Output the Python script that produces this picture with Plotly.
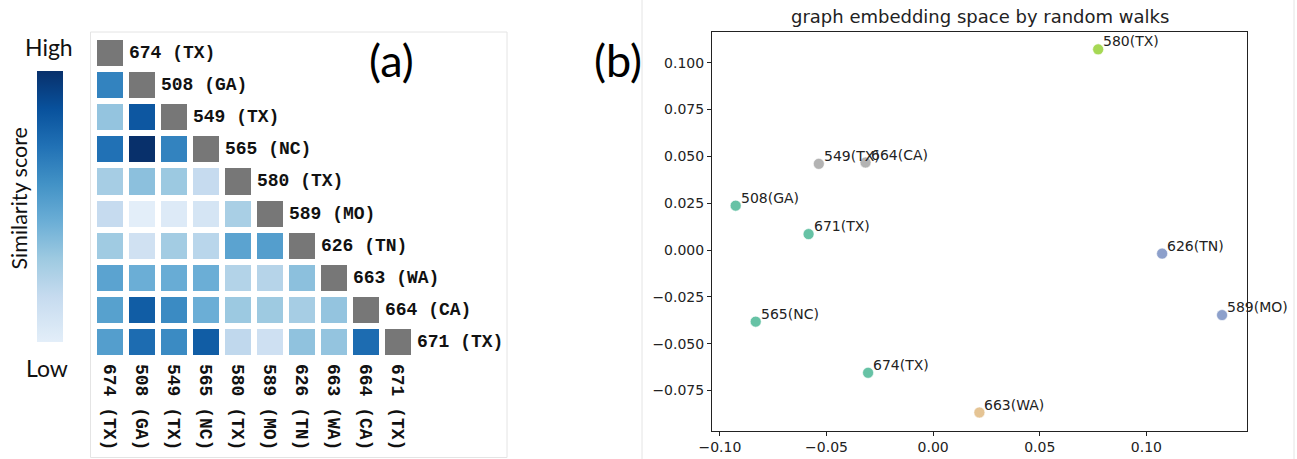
import plotly.graph_objects as go

W, H = 1297, 459

# ---------------- data: panel (a) ----------------
names = ["674 (TX)", "508 (GA)", "549 (TX)", "565 (NC)", "580 (TX)",
         "589 (MO)", "626 (TN)", "663 (WA)", "664 (CA)", "671 (TX)"]
# lower-triangular similarity scores (row i, columns 0..i-1)
sim_rows = [
    [],
    [0.68],
    [0.40, 0.85],
    [0.75, 1.00, 0.68],
    [0.35, 0.42, 0.38, 0.25],
    [0.25, 0.10, 0.13, 0.17, 0.34],
    [0.37, 0.20, 0.36, 0.29, 0.55, 0.57],
    [0.55, 0.50, 0.51, 0.50, 0.31, 0.30, 0.42],
    [0.56, 0.83, 0.65, 0.50, 0.38, 0.375, 0.35, 0.40],
    [0.57, 0.77, 0.65, 0.83, 0.27, 0.21, 0.41, 0.40, 0.77],
]

# ---------------- data: panel (b) ----------------
pt_labels = ["580(TX)", "549(TX)", "664(CA)", "508(GA)", "671(TX)",
             "626(TN)", "589(MO)", "565(NC)", "674(TX)", "663(WA)"]
pt_x = [0.0774, -0.0536, -0.0317, -0.0926, -0.0584, 0.1074, 0.1355, -0.0832, -0.0305, 0.0217]
pt_y = [0.1071, 0.0460, 0.0467, 0.0237, 0.0085, -0.0019, -0.0347, -0.0382, -0.0655, -0.0867]
pt_colors = ["#a6d854", "#b3b3b3", "#b3b3b3", "#66c2a5", "#66c2a5",
             "#8da0cb", "#8da0cb", "#66c2a5", "#66c2a5", "#e5c494"]

# Blues colour scale, starting from its light-blue tenth
blues_scale = [[0.0, "#e3eef9"], [0.0278, "#deebf7"], [0.1667, "#c6dbef"],
               [0.3056, "#9ecae1"], [0.4444, "#6baed6"], [0.5833, "#4292c6"],
               [0.7222, "#2171b5"], [0.8611, "#08519c"], [1.0, "#08306b"]]

n = len(names)
z = [[(sim_rows[i][j] if j < i else None) for j in range(n)] for i in range(n)]
zd = [[(1 if j == i else None) for j in range(n)] for i in range(n)]
idx = list(range(n))

def px(x):
    return x / W

def py(y):
    return 1 - y / H

fig = go.Figure()

fig.add_trace(go.Heatmap(
    z=z, x=idx, y=idx, xgap=6, ygap=6,
    colorscale=blues_scale, zmin=0.1, zmax=1,
    hoverongaps=False,
    colorbar=dict(
        x=px(37), xanchor="left", xref="paper",
        y=py(70.5), yanchor="top", yref="paper",
        len=271, lenmode="pixels",
        thickness=26, thicknessmode="pixels",
        outlinewidth=0, showticklabels=False, ticks="",
        xpad=0, ypad=0,
    ),
    xaxis="x", yaxis="y",
))
fig.add_trace(go.Heatmap(
    z=zd, x=idx, y=idx, xgap=6, ygap=6,
    colorscale=[[0, "#777777"], [1, "#777777"]], showscale=False,
    hoverongaps=False, xaxis="x", yaxis="y",
))

fig.add_trace(go.Scatter(
    x=pt_x, y=pt_y, mode="markers", text=pt_labels,
    marker=dict(size=11, color=pt_colors, line=dict(color="white", width=0.6)),
    xaxis="x2", yaxis="y2", showlegend=False, hoverinfo="text",
))

mono = dict(family="Liberation Mono", size=18, color="#111111", weight="bold")

annotations = []
for i, nm in enumerate(names):
    annotations.append(dict(
        x=i + 0.5, y=i, xref="x", yref="y", text=nm, showarrow=False,
        xanchor="left", yanchor="middle", xshift=1, font=mono,
    ))
for lx, ly, lt in zip(pt_x, pt_y, pt_labels):
    annotations.append(dict(
        x=lx, y=ly, xref="x2", yref="y2", text=lt, showarrow=False,
        xanchor="left", yanchor="bottom", xshift=3, yshift=-2,
        font=dict(family="DejaVu Sans", size=14, color="#222222"),
    ))

sans = "Lato"
annotations += [
    dict(x=px(49), y=py(47), xref="paper", yref="paper", text="High", showarrow=False,
         xanchor="center", yanchor="middle", font=dict(family=sans, size=23, color="#111")),
    dict(x=px(47), y=py(368), xref="paper", yref="paper", text="Low", showarrow=False,
         xanchor="center", yanchor="middle", font=dict(family=sans, size=23, color="#111")),
    dict(x=px(18.5), y=py(199), xref="paper", yref="paper", text="Similarity score", showarrow=False,
         textangle=-90, xanchor="center", yanchor="middle", font=dict(family=sans, size=21.5, color="#111")),
    dict(x=px(391), y=py(60), xref="paper", yref="paper", text="(a)", showarrow=False,
         xanchor="center", yanchor="middle", font=dict(family=sans, size=45, color="#000")),
    dict(x=px(618), y=py(60), xref="paper", yref="paper", text="(b)", showarrow=False,
         xanchor="center", yanchor="middle", font=dict(family=sans, size=45, color="#000")),
    dict(x=px(979.5), y=py(16), xref="paper", yref="paper",
         text="graph embedding space by random walks", showarrow=False,
         xanchor="center", yanchor="middle", font=dict(family="DejaVu Sans", size=18, color="#222")),
]

frame = dict(color="#e4e4e4", width=1)
shapes = [
    dict(type="rect", xref="paper", yref="paper", x0=px(90.5), x1=px(507), y0=py(457.5), y1=py(32),
         line=frame, layer="below"),
    dict(type="line", xref="paper", yref="paper", x0=px(642), x1=px(642), y0=0, y1=1, line=frame),
    dict(type="line", xref="paper", yref="paper", x0=px(1294), x1=px(1294), y0=0, y1=1, line=frame),
]

fig.update_layout(
    width=W, height=H, margin=dict(l=0, r=0, t=0, b=0, autoexpand=False),
    paper_bgcolor="white", plot_bgcolor="white", showlegend=False,
    xaxis=dict(domain=[px(94), px(414)], range=[-0.5, 9.5], tickvals=idx, ticktext=names,
               tickangle=90, ticks="", showgrid=False, zeroline=False, showline=False,
               tickfont=mono, anchor="y", fixedrange=True, automargin=False,
               ticklabelstandoff=5),
    yaxis=dict(domain=[py(358), py(37)], range=[9.5, -0.5], visible=False,
               showgrid=False, zeroline=False, anchor="x", fixedrange=True, automargin=False),
    xaxis2=dict(domain=[px(712), px(1247)], range=[-0.1037, 0.1472], dtick=0.05, tick0=0,
                tickformat=".2f", ticks="outside", ticklen=4, tickcolor="#222",
                showline=True, linecolor="#222", linewidth=1, mirror=True,
                showgrid=False, zeroline=False, anchor="y2", automargin=False,
                tickfont=dict(family="DejaVu Sans", size=14, color="#222")),
    yaxis2=dict(domain=[py(430.5), py(32.3)], range=[-0.0963, 0.1162], dtick=0.025, tick0=0,
                tickformat=".3f", ticks="outside", ticklen=4, tickcolor="#222",
                showline=True, linecolor="#222", linewidth=1, mirror=True,
                showgrid=False, zeroline=False, anchor="x2", automargin=False,
                tickfont=dict(family="DejaVu Sans", size=14, color="#222")),
    annotations=annotations, shapes=shapes,
)

fig.write_html("out.html")
